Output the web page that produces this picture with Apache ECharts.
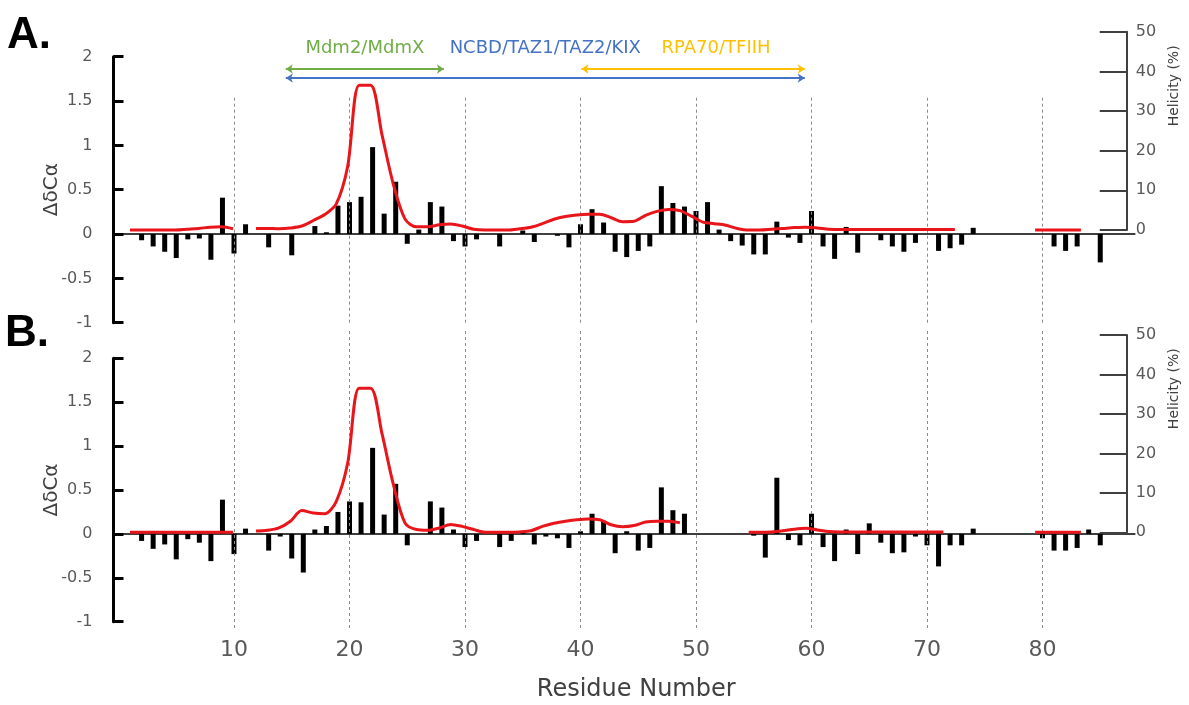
<!DOCTYPE html>
<html>
<head>
<meta charset="utf-8">
<script src="https://cdn.jsdelivr.net/npm/echarts@6/dist/echarts.min.js"></script>
<style>html,body{margin:0;padding:0;background:#fff}#c{width:1189px;height:705px}</style>
</head>
<body>
<div id="c"></div>
<script>
const residues = [1,2,3,4,5,6,7,8,9,10,11,12,13,14,15,16,17,18,19,20,21,22,23,24,25,26,27,28,29,30,
  31,32,33,34,35,36,37,38,39,40,41,42,43,44,45,46,47,48,49,50,51,52,53,54,55,56,57,58,59,60,
  61,62,63,64,65,66,67,68,69,70,71,72,73,74,75,76,77,78,79,80,81,82,83,84,85];

// Panel A: chemical shift deviation (ΔδCα, ppm)
const deltaA = [null,-0.07,-0.14,-0.20,-0.27,-0.06,-0.05,-0.29,0.41,-0.22,
  0.11,null,-0.15,null,-0.24,null,0.09,0.02,0.32,0.36,
  0.42,0.98,0.23,0.59,-0.11,0.05,0.36,0.31,-0.08,-0.14,
  -0.06,null,-0.14,null,0.04,-0.09,null,-0.02,-0.15,0.11,
  0.28,0.13,-0.20,-0.26,-0.19,-0.14,0.54,0.35,0.31,0.26,
  0.36,0.05,-0.08,-0.13,-0.23,-0.23,0.14,-0.04,-0.10,0.26,
  -0.14,-0.28,0.08,-0.21,null,-0.07,-0.14,-0.20,-0.10,null,
  -0.19,-0.16,-0.12,0.07,null,null,null,null,null,null,
  -0.14,-0.19,-0.14,null,-0.32];
// Panel A: helicity (%)
const helixA = [0,0,0,0,0,0.2,0.4,0.7,0.8,0.3,
  null,0.4,0.4,0.3,0.5,1.0,2.4,3.9,6.5,16,
  36.5,36.5,24,11.4,2.8,0.8,0.8,1.3,1.5,1.0,
  0.2,0,0,0,0.3,0.7,1.6,2.7,3.4,3.8,
  4.0,4.0,3.1,2.1,2.2,3.7,4.7,5.2,4.9,3.5,
  2.0,1.6,1.2,0.4,0,0,0.2,0.4,0.6,0.7,
  0.5,0.2,0.1,0.1,0.1,0.1,0.1,0.1,0.1,0.1,
  0.1,0.1,0.1,null,null,null,null,null,null,0,
  0,0,0,0,null];
// Panel B: chemical shift deviation (ΔδCα, ppm)
const deltaB = [null,-0.08,-0.17,-0.12,-0.29,-0.06,-0.10,-0.31,0.39,-0.23,
  0.06,null,-0.19,-0.03,-0.28,-0.44,0.05,0.09,0.25,0.37,
  0.36,0.98,0.22,0.57,-0.13,null,0.37,0.30,0.05,-0.15,
  -0.08,null,-0.15,-0.08,0.02,-0.12,-0.03,-0.05,-0.16,0.03,
  0.23,0.15,-0.22,0.03,-0.19,-0.16,0.53,0.27,0.23,null,
  null,null,null,null,-0.02,-0.27,0.64,-0.07,-0.13,0.23,
  -0.15,-0.31,0.05,-0.23,0.12,-0.10,-0.22,-0.21,-0.03,-0.13,
  -0.37,-0.13,-0.13,0.06,null,null,null,null,null,-0.05,
  -0.19,-0.19,-0.16,0.05,-0.13];
// Panel B: helicity (%)
const helixB = [0,0,0,0,0,0,0,0,0,0,
  null,0.3,0.5,1.1,2.8,5.5,4.9,4.7,7.8,17.5,
  36.5,36.5,25,12,2.4,0.7,0.5,1.1,2.0,1.5,
  0.7,0,0,0,0.1,0.4,1.5,2.3,2.8,3.2,
  3.4,3.2,1.9,1.4,1.7,2.6,2.8,2.8,2.4,null,
  null,null,null,null,0,0,0.1,0.4,0.8,1.0,
  0.6,0.2,0.1,0.1,0.1,0.1,0.1,0.1,0.1,0.1,
  0.1,0.1,null,null,null,null,null,null,null,0,
  0,0,0,0,null];

const xTicks = [10,20,30,40,50,60,70,80];
const regionNames = ['Mdm2/MdmX','NCBD/TAZ1/TAZ2/KIX','RPA70/TFIIH'];
const regionStart = [14.6,14.6,40.4];
const regionEnd = [28.4,59.9,59.9];

const barPairs = v => residues.map((r,i)=>[r,v[i]]).filter(p=>p[1]!==null);
const linePairs = v => residues.map((r,i)=>[r, v[i]===null ? '-' : v[i]]);

const L = 118.5, W = 1016.4;
const FONT = 'DejaVu Sans';
const regionColors = ['#70AD47','#4472C4','#FFC000'];
const regionLevels = [40.6,38.3,40.6];
const regionPad = [[0,0,7,0],[0,0,16,0],[0,0,7,46]];

const grids = [
  {left:L, width:W, top:56.7, height:266},    // A bars
  {left:L, width:W, top:31.7, height:198.3},  // A helicity
  {left:L, width:W, top:95, height:227.7},    // A dashed
  {left:L, width:W, top:358.3, height:263.4}, // B bars
  {left:L, width:W, top:335, height:197.3},   // B helicity
  {left:L, width:W, top:329, height:299}      // B dashed + x labels
];

const xAxes = grids.map((g,i)=>{
  const base = {gridIndex:i, type:'value', min:0, max:88, interval:10,
    splitLine:{show:false}, axisTick:{show:false}, axisLabel:{show:false}, axisLine:{show:false}};
  if (i===0 || i===3) {
    base.axisLine = {show:true, onZero:true, lineStyle:{color:'#000', width:1.5}};
  }
  if (i===5) {
    base.axisLabel = {show:true, margin:11, fontFamily:FONT, fontSize:22, color:'#595959',
      formatter: v => (v>0 && v%10===0 && v<=80) ? String(v) : ''};
    base.name = 'Residue Number';
    base.nameLocation = 'middle';
    base.nameGap = 50;
    base.nameTextStyle = {fontFamily:FONT, fontSize:24, color:'#404040', padding:[0,0,0,19]};
  }
  return base;
});

function leftAxis(gi){
  return {gridIndex:gi, type:'value', position:'left', min:-1, max:2, interval:0.5, offset:5,
    axisLine:{show:true, onZero:false, lineStyle:{color:'#000', width:3}},
    axisTick:{show:true, inside:true, length:10, lineStyle:{color:'#000', width:3}},
    axisLabel:{margin:21, fontFamily:FONT, fontSize:16, color:'#595959'},
    splitLine:{show:false},
    name:'ΔδCα', nameLocation:'middle', nameGap:52, nameRotate:90, nameMoveOverlap:false,
    nameTextStyle:{fontFamily:FONT, fontSize:20, color:'#404040'}};
}
function rightAxis(gi){
  return {gridIndex:gi, type:'value', position:'right', min:0, max:50, interval:10, offset:0,
    axisLine:{show:true, onZero:false, lineStyle:{color:'#404040', width:2}},
    axisTick:{show:true, inside:true, length:27, lineStyle:{color:'#404040', width:2}},
    axisLabel:{margin:9, fontFamily:FONT, fontSize:16, color:'#595959'},
    splitLine:{show:false},
    name:'Helicity (%)', nameLocation:'middle', nameGap:34, nameRotate:90,
    nameTextStyle:{fontFamily:FONT, fontSize:14, color:'#404040', padding:[0,0,0,90]}};
}
function hiddenAxis(gi){
  return {gridIndex:gi, type:'value', min:0, max:1, show:false};
}
const yAxes = [leftAxis(0), rightAxis(1), hiddenAxis(2), leftAxis(3), rightAxis(4), hiddenAxis(5)];

function barSeries(ax, vals){
  return {type:'bar', xAxisIndex:ax, yAxisIndex:ax, data:barPairs(vals), barWidth:5,
    itemStyle:{color:'#000'}, silent:true};
}
function lineSeries(ax, vals, extra){
  return Object.assign({type:'line', xAxisIndex:ax, yAxisIndex:ax, data:linePairs(vals),
    smooth:0.3, showSymbol:false, symbol:'none', connectNulls:false, clip:false,
    lineStyle:{color:'#E8151B', width:3}, itemStyle:{color:'#E8151B'}, z:5}, extra||{});
}
function dashSeries(ax){
  return {type:'line', xAxisIndex:ax, yAxisIndex:ax, data:[], silent:true,
    markLine:{silent:true, symbol:['none','none'], label:{show:false}, animation:false,
      lineStyle:{type:[3,3], color:'#8c8c8c', width:1},
      data: xTicks.map(v=>({xAxis:v}))}, z:1};
}

const regionLines = regionNames.map((n,i)=>[
  {coord:[regionStart[i], regionLevels[i]], name:n,
   lineStyle:{color:regionColors[i], width:2, type:'solid'},
   label:{show:true, position:'middle', formatter:n, color:regionColors[i],
     fontFamily:FONT, fontSize:18, padding:regionPad[i]}},
  {coord:[regionEnd[i], regionLevels[i]]}
]);

const option = {
  animation:false,
  backgroundColor:'#fff',
  grid: grids,
  xAxis: xAxes,
  yAxis: yAxes,
  graphic: [
    {type:'text', left:7, top:14, style:{text:'A.', font:'bold 44px "Liberation Sans"', fill:'#000'}},
    {type:'text', left:5, top:312, style:{text:'B.', font:'bold 44px "Liberation Sans"', fill:'#000'}}
  ],
  series: [
    dashSeries(2),
    barSeries(0, deltaA),
    lineSeries(1, helixA, {markLine:{silent:true, symbol:['arrow','arrow'], symbolSize:7,
      animation:false, data:regionLines}}),
    dashSeries(5),
    barSeries(3, deltaB),
    lineSeries(4, helixB)
  ]
};
const chart = echarts.init(document.getElementById('c'), null, {renderer:'canvas'});
chart.setOption(option);
</script>
</body>
</html>
